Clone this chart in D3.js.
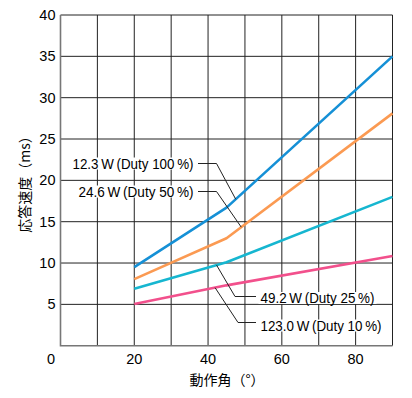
<!DOCTYPE html>
<html>
<head>
<meta charset="utf-8">
<script src="https://cdn.jsdelivr.net/npm/d3@7"></script>
<style>
  body { margin: 0; background: #fff; }
  svg { display: block; font-family: "Liberation Sans", "Noto Sans CJK JP", sans-serif; }
</style>
</head>
<body>
<svg id="chart" width="412" height="398"></svg>
<script>
// angle (deg) where each curve is sampled
const angles = [20, 45, 90];
// response time (ms)
const duty100 = [9.5, 16.7, 35.0];
const duty50 = [8.05, 13.0, 28.1];
const duty25 = [6.9, 10.1, 18.0];
const duty10 = [5.05, 7.3, 10.85];

const xTicks = [20, 40, 60, 80];
const yTicks = [5, 10, 15, 20, 25, 30, 35, 40];

const seriesNames = ['12.3\u2009W\u2009(Duty 100\u2009%)', '24.6\u2009W\u2009(Duty 50\u2009%)', '49.2\u2009W\u2009(Duty 25\u2009%)', '123.0\u2009W\u2009(Duty 10\u2009%)'];
const seriesValues = [duty100, duty50, duty25, duty10];
const seriesColors = ['#1590d6', '#fb9a52', '#16b6d0', '#f2508c'];
// angle on the curve the leader line points to
const leaderAngles = [47.5, 49, 42.3, 41.9];

const margin = {left: 60.5, top: 15};
const width = 332;
const height = 330.7;

const svg = d3.select('#chart');
const g = svg.append('g').attr('transform', `translate(${margin.left},${margin.top})`);

const x = d3.scaleLinear().domain([0, 90]).range([0, width]);
const y = d3.scaleLinear().domain([0, 40]).range([height, 0]);

// grid
g.selectAll('.vgrid')
  .data(d3.range(10, 91, 10))
  .enter().append('line')
  .attr('x1', d => x(d)).attr('x2', d => x(d))
  .attr('y1', 0).attr('y2', height)
  .attr('stroke', '#222').attr('stroke-width', 1);
g.selectAll('.hgrid')
  .data(d3.range(5, 41, 5))
  .enter().append('line')
  .attr('x1', 0).attr('x2', width)
  .attr('y1', d => y(d)).attr('y2', d => y(d))
  .attr('stroke', '#222').attr('stroke-width', 1);

// left / bottom frame
g.append('path')
  .attr('d', `M0,0V${height}H${width}`)
  .attr('fill', 'none')
  .attr('stroke', '#777')
  .attr('stroke-width', 1.6);

// ticks labels
g.selectAll('.ylab')
  .data(yTicks)
  .enter().append('text')
  .attr('x', -5).attr('y', d => y(d) + 5)
  .attr('text-anchor', 'end')
  .attr('font-size', 14.5)
  .text(d => d);
g.selectAll('.xlab')
  .data(xTicks)
  .enter().append('text')
  .attr('x', d => x(d)).attr('y', height + 18)
  .attr('text-anchor', 'middle')
  .attr('font-size', 14.5)
  .text(d => d);
g.append('text')
  .attr('x', -9.5).attr('y', height + 18)
  .attr('text-anchor', 'middle')
  .attr('font-size', 14.5)
  .text('0');

// axis titles
svg.append('text')
  .attr('x', 227).attr('y', 385)
  .attr('text-anchor', 'middle')
  .attr('font-family', '"Noto Sans CJK JP", sans-serif')
  .attr('font-size', 14)
  .text('動作角（°）');
svg.append('text')
  .attr('transform', 'translate(30,181) rotate(-90)')
  .attr('text-anchor', 'middle')
  .attr('font-family', '"Noto Sans CJK JP", sans-serif')
  .attr('font-size', 14)
  .text('応答速度（ms）');

// curves
const line = d3.line()
  .x((d, i) => x(angles[i]))
  .y(d => y(d));

g.selectAll('.curve')
  .data(seriesValues)
  .enter().append('path')
  .attr('d', d => line(d))
  .attr('fill', 'none')
  .attr('stroke', (d, i) => seriesColors[i])
  .attr('stroke-width', 2.6)
  .attr('stroke-linejoin', 'round');

// labels with leader lines (page coordinates)
const labelLayout = [
  {tx: 193.5, ty: 168.5, anchor: 'end', len: 121, hx0: 198, hx1: 216.5, hy: 163.5},
  {tx: 193.5, ty: 196.5, anchor: 'end', len: 115, hx0: 198, hx1: 216.5, hy: 191.5},
  {tx: 260.5, ty: 303, anchor: 'start', len: 114, hx0: 256, hx1: 235, hy: 296.5},
  {tx: 260.5, ty: 330.5, anchor: 'start', len: 121, hx0: 256, hx1: 238, hy: 322.5}
];

const valueAt = (vals, a) => d3.scaleLinear().domain(angles).range(vals)(a);

labelLayout.forEach((l, i) => {
  const px = margin.left + x(leaderAngles[i]);
  const py = margin.top + y(valueAt(seriesValues[i], leaderAngles[i]));
  svg.append('path')
    .attr('d', `M${l.hx0},${l.hy}H${l.hx1}L${px},${py}`)
    .attr('fill', 'none')
    .attr('stroke', '#222')
    .attr('stroke-width', 1);
  svg.append('text')
    .attr('x', l.tx).attr('y', l.ty)
    .attr('text-anchor', l.anchor)
    .attr('font-size', 14.5)
    .attr('textLength', l.len)
    .attr('lengthAdjust', 'spacingAndGlyphs')
    .text(seriesNames[i]);
});

// white halo behind label text so grid lines break around it
svg.selectAll('text').each(function () {
  if (!this.getAttribute('textLength')) return;
  const b = this.getBBox();
  d3.select(this.parentNode).insert('rect', () => this)
    .attr('x', b.x - 2).attr('y', b.y + 2)
    .attr('width', b.width + 4).attr('height', b.height - 4)
    .attr('fill', '#fff');
});
</script>
</body>
</html>
